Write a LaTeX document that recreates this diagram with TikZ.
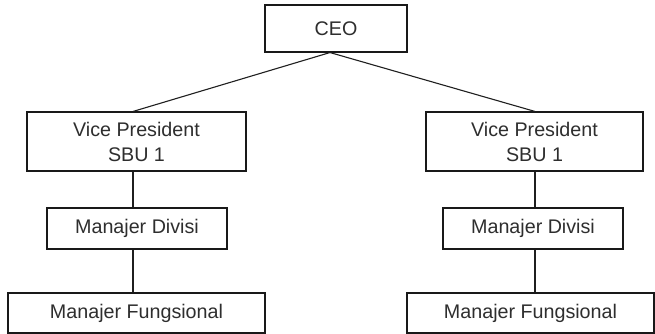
\documentclass[tikz,border=0pt]{standalone}
\usepackage{fontspec}
\setmainfont{Liberation Sans}
\begin{document}
\begin{tikzpicture}[x=1pt,y=-1pt,
  orgbox/.style={draw=black!90, line width=1.1pt, inner sep=0pt, align=center,
    text=black!82, font=\fontsize{19.7}{25}\selectfont},
  link/.style={draw=black!88, line width=1.1pt}]
  \useasboundingbox[fill=white] (0,0) rectangle (655,334);

  % top level
  \node[orgbox, minimum width=142, minimum height=47] (ceo) at (336,28.5) {CEO};

  % left branch
  \node[orgbox, minimum width=219, minimum height=59] (vpl) at (136.5,141.5) {Vice President\\SBU 1};
  \node[orgbox, minimum width=180, minimum height=41] (mdl) at (137,228.5) {Manajer Divisi};
  \node[orgbox, minimum width=257, minimum height=40] (mfl) at (136.5,313) {Manajer Fungsional};

  % right branch
  \node[orgbox, minimum width=217, minimum height=59] (vpr) at (534.5,141.5) {Vice President\\SBU 1};
  \node[orgbox, minimum width=180, minimum height=41] (mdr) at (533,228.5) {Manajer Divisi};
  \node[orgbox, minimum width=247, minimum height=40] (mfr) at (530.5,313) {Manajer Fungsional};

  % columns the vertical links run along
  \coordinate (apex) at ([xshift=-6]ceo.south);
  \coordinate (lcol) at (133,0);
  \coordinate (rcol) at (535,0);

  \draw[link] (apex) -- (vpl.north -| lcol);
  \draw[link] (apex) -- (vpr.north -| rcol);
  \draw[link] (vpl.south -| lcol) -- (mdl.north -| lcol);
  \draw[link] (mdl.south -| lcol) -- (mfl.north -| lcol);
  \draw[link] (vpr.south -| rcol) -- (mdr.north -| rcol);
  \draw[link] (mdr.south -| rcol) -- (mfr.north -| rcol);
\end{tikzpicture}
\end{document}
